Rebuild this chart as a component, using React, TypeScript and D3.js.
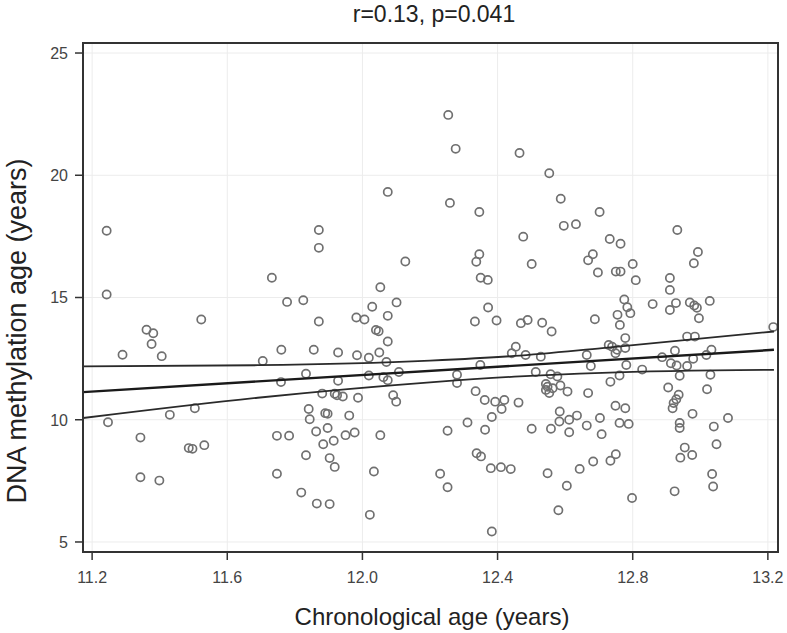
import * as React from "react";
import * as d3 from "d3";

// chronological age (x) and DNA methylation age (y)
const chronAge = [
  11.243, 11.243, 11.732, 11.777, 11.825, 11.871, 11.871, 12.075, 12.053, 12.029,
  12.101, 11.982, 12.006, 12.075, 11.871, 11.523, 12.254, 12.276, 12.465, 12.553,
  12.259, 12.346, 12.587, 12.702, 12.596, 12.632, 12.476, 12.932, 12.732, 12.764,
  12.993, 12.981, 12.346, 12.337, 12.127, 12.501, 12.682, 12.668, 12.697, 12.75,
  12.764, 12.8, 12.809, 12.35, 12.371, 12.91, 12.91, 12.372, 12.775, 12.784,
  12.793, 12.755, 12.859, 12.91, 12.928, 12.969, 12.982, 12.99, 13.028, 12.996,
  11.361, 11.381, 11.376, 11.29, 11.406, 11.705, 11.247, 11.343, 11.43, 11.504,
  11.486, 11.497, 11.532, 11.343, 11.399, 11.76, 11.856, 11.928, 11.984, 12.019,
  12.05, 12.071, 12.075, 12.04, 12.048, 11.833, 11.759, 11.928, 12.019, 12.062,
  12.075, 12.108, 11.881, 11.918, 11.925, 11.942, 11.987, 12.091, 12.1, 11.841,
  11.844, 11.89, 11.897, 11.961, 11.863, 11.897, 11.95, 11.977, 11.915, 11.884,
  11.747, 11.783, 12.053, 11.833, 11.903, 11.918, 11.747, 12.034, 11.819, 11.865,
  11.903, 12.022, 12.333, 12.397, 12.469, 12.489, 12.532, 12.56, 12.688, 12.454,
  12.442, 12.483, 12.528, 12.664, 12.676, 12.349, 12.28, 12.28, 12.513, 12.557,
  12.577, 12.543, 12.548, 12.543, 12.563, 12.553, 12.586, 12.607, 12.668, 12.335,
  12.362, 12.393, 12.42, 12.412, 12.462, 12.383, 12.311, 12.252, 12.363, 12.501,
  12.558, 12.584, 12.583, 12.612, 12.635, 12.612, 12.664, 12.703, 12.708, 12.338,
  12.351, 12.38, 12.41, 12.439, 12.23, 12.252, 12.548, 12.643, 12.683, 12.605,
  12.58, 12.383, 12.762, 12.778, 12.729, 12.739, 12.754, 12.749, 12.778, 12.781,
  12.828, 12.761, 12.734, 12.961, 12.984, 13.216, 12.887, 12.925, 12.913, 12.93,
  12.961, 12.979, 13.018, 13.033, 12.939, 13.03, 12.905, 13.02, 12.936, 12.929,
  12.921, 12.918, 12.977, 13.082, 13.04, 12.939, 12.939, 13.048, 12.954, 12.976,
  12.941, 12.749, 12.778, 12.761, 12.788, 12.75, 12.734, 13.035, 13.038, 12.924,
  12.798,
];

const methAge = [
  17.73, 15.12, 15.81, 14.82, 14.89, 17.76, 17.03, 19.32, 15.42, 14.62,
  14.8, 14.18, 14.1, 14.25, 14.02, 14.1, 22.47, 21.08, 20.91, 20.08,
  18.87, 18.5, 19.04, 18.5, 17.93, 18.0, 17.49, 17.76, 17.39, 17.2,
  16.86, 16.4, 16.77, 16.46, 16.47, 16.37, 16.77, 16.52, 16.02, 16.06,
  16.06, 16.37, 15.71, 15.81, 15.72, 15.8, 15.31, 14.59, 14.92, 14.6,
  14.36, 14.29, 14.73, 14.49, 14.77, 14.8, 14.67, 14.58, 14.86, 14.15,
  13.68, 13.54, 13.1, 12.66, 12.6, 12.4, 9.9, 9.27, 10.2, 10.47,
  8.84, 8.81, 8.96, 7.65, 7.51, 12.86, 12.86, 12.75, 12.64, 12.54,
  12.75, 12.36, 13.2, 13.67, 13.62, 11.88, 11.54, 11.59, 11.81, 11.74,
  11.62, 11.95, 11.07, 11.06, 11.0, 10.95, 10.9, 11.0, 10.74, 10.44,
  10.02, 10.27, 10.24, 10.17, 9.52, 9.66, 9.37, 9.48, 9.14, 9.0,
  9.34, 9.35, 9.37, 8.55, 8.43, 8.07, 7.79, 7.88, 7.02, 6.57,
  6.55, 6.11, 14.02, 14.06, 13.95, 14.08, 13.97, 13.61, 14.11, 12.99,
  12.72, 12.65, 12.58, 12.65, 12.2, 12.24, 11.84, 11.5, 11.95, 11.86,
  11.77, 11.46, 11.35, 11.22, 11.29, 11.09, 11.4, 11.15, 11.09, 11.17,
  10.81, 10.74, 10.81, 10.44, 10.7, 10.11, 9.89, 9.55, 9.59, 9.63,
  9.63, 10.34, 9.93, 10.0, 10.17, 9.49, 9.76, 10.07, 9.41, 8.63,
  8.5, 8.02, 8.06, 7.98, 7.79, 7.24, 7.81, 7.99, 8.29, 7.3,
  6.3, 5.43, 13.88, 13.34, 13.06, 12.99, 12.86, 12.72, 12.93, 12.24,
  12.05, 11.81, 11.55, 13.4, 13.4, 13.79, 12.56, 12.82, 12.31, 12.22,
  12.2, 12.49, 12.65, 12.86, 11.8, 11.84, 11.32, 11.25, 11.02, 10.84,
  10.68, 10.47, 10.24, 10.07, 9.72, 9.87, 9.66, 9.0, 8.86, 8.56,
  8.45, 10.57, 10.47, 9.87, 9.83, 8.59, 8.32, 7.78, 7.27, 7.07,
  6.8,
];

// regression line and 95% CI read at a few x positions
const fitX = [11.173, 13.218];
const fitY = [11.13, 12.86];
const ciX = [11.173, 11.69, 12.2, 12.45, 12.71, 13.218];
const ciUpper = [12.18, 12.23, 12.42, 12.61, 12.93, 13.61];
const ciLower = [10.07, 10.9, 11.53, 11.76, 11.92, 12.04];

const xTicks = [11.2, 11.6, 12.0, 12.4, 12.8, 13.2];
const yTicks = [5, 10, 15, 20, 25];

const W = 787;
const H = 633;
const m = { left: 83, right: 9, top: 43, bottom: 81 };
const font = "'Liberation Sans', Arial, sans-serif";

export default function App() {
  const iw = W - m.left - m.right;
  const ih = H - m.top - m.bottom;

  const x = d3.scaleLinear().domain([11.173, 13.23]).range([0, iw]);
  const y = d3.scaleLinear().domain([4.59, 25.41]).range([ih, 0]);

  const fitLine = d3.line<number>().x((d) => x(d)).y((_, i) => y(fitY[i]));
  const ciLine = (vals: number[]) =>
    d3
      .line<number>()
      .x((d) => x(d))
      .y((_, i) => y(vals[i]))
      .curve(d3.curveMonotoneX)(ciX);

  return (
    <svg
      width={W}
      height={H}
      style={{ position: "absolute", left: 0, top: 0, background: "#fff" }}
      fontFamily={font}
    >
      <text x={434} y={22} textAnchor="middle" fontSize={23} fill="#222">
        r=0.13, p=0.041
      </text>
      <g transform={`translate(${m.left},${m.top})`}>
        {xTicks.map((t) => (
          <line key={"gx" + t} x1={x(t)} x2={x(t)} y1={0} y2={ih} stroke="#ececec" strokeWidth={1} />
        ))}
        {yTicks.map((t) => (
          <line key={"gy" + t} x1={0} x2={iw} y1={y(t)} y2={y(t)} stroke="#ececec" strokeWidth={1} />
        ))}

        {chronAge.map((cx, i) => (
          <circle
            key={i}
            cx={x(cx)}
            cy={y(methAge[i])}
            r={4.1}
            fill="none"
            stroke="#707070"
            strokeWidth={1.7}
          />
        ))}

        <path d={ciLine(ciUpper) ?? ""} fill="none" stroke="#2a2a2a" strokeWidth={1.8} />
        <path d={ciLine(ciLower) ?? ""} fill="none" stroke="#2a2a2a" strokeWidth={1.8} />
        <path d={fitLine(fitX) ?? ""} fill="none" stroke="#1a1a1a" strokeWidth={2.4} />

        <rect x={0} y={0} width={iw} height={ih} fill="none" stroke="#333" strokeWidth={2} />

        {xTicks.map((t) => (
          <g key={"tx" + t} transform={`translate(${x(t)},${ih})`}>
            <line y1={1} y2={8} stroke="#333" strokeWidth={1.5} />
            <text y={31} textAnchor="middle" fontSize={16} fill="#444">
              {t.toFixed(1)}
            </text>
          </g>
        ))}
        {yTicks.map((t) => (
          <g key={"ty" + t} transform={`translate(0,${y(t)})`}>
            <line x1={-1} x2={-8} stroke="#333" strokeWidth={1.5} />
            <text x={-15} dy="0.36em" textAnchor="end" fontSize={16} fill="#444">
              {t}
            </text>
          </g>
        ))}
      </g>
      <text x={432} y={625} textAnchor="middle" fontSize={24} fill="#222">
        Chronological age (years)
      </text>
      <text
        transform={`translate(26,331) rotate(-90)`}
        textAnchor="middle"
        fontSize={27}
        fill="#222"
      >
        DNA methylation age (years)
      </text>
    </svg>
  );
}
